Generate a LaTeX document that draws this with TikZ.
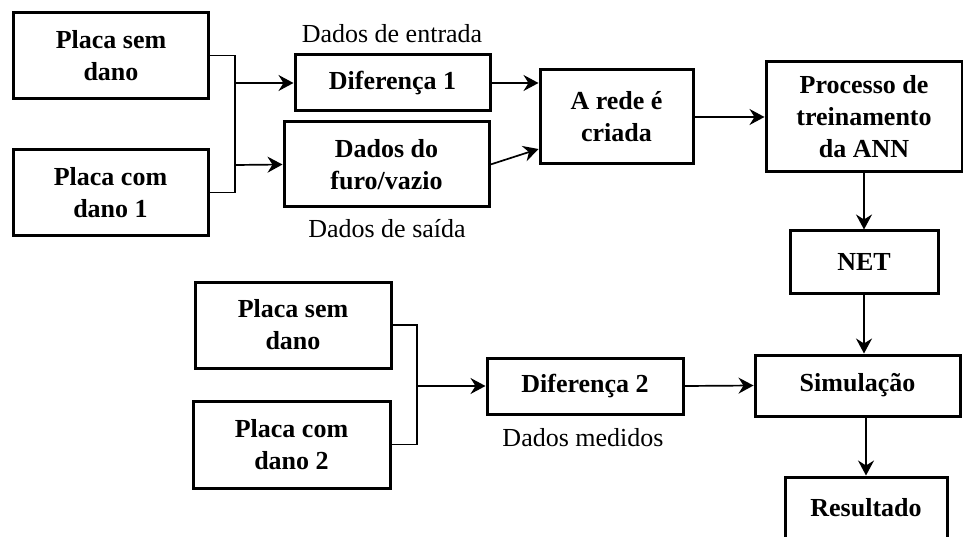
\documentclass[tikz,border=0pt]{standalone}
\usepackage{fontspec}
\setmainfont{Liberation Serif}
\usetikzlibrary{arrows.meta}

\tikzset{
  box/.style={draw, line width=3pt, inner sep=0pt, align=center,
    font=\fontsize{26}{32}\selectfont\bfseries},
  lbl/.style={inner sep=0pt, font=\fontsize{26}{32}\selectfont},
  arr/.style={line width=1.7pt, -{Stealth[length=15pt,width=16pt,inset=5pt]}},
  lin/.style={line width=1.7pt}
}

\begin{document}
\begin{tikzpicture}[x=1pt,y=-1pt]
	  \clip (0,0) rectangle (963,537);
	  \useasboundingbox (0,0) rectangle (963,537);

	  % upper branch
	  \node[box, minimum width=195, minimum height=86] (ps1) at (111,55.5) {Placa sem\\dano};
	  \node[box, minimum width=195, minimum height=86] (pc1) at (110.5,192.5) {Placa com\\dano 1};
	  \node[box, minimum width=195, minimum height=56] (dif1) at (392.5,83) {Diferença 1};
	  \node[box, minimum width=205, minimum height=85] (furo) at (386.5,164.5) {Dados do\\furo/vazio};
	  \node[box, minimum width=153, minimum height=94] (rede) at (616.5,117) {A rede é\\criada};
	  \node[box, minimum width=196, minimum height=110] (proc) at (864,117) {Processo de\\treinamento\\da ANN};
	  \node[box, minimum width=148, minimum height=62] (net) at (864,262) {NET};
	  \node[lbl] (lent) at (392,34) {Dados de entrada};
	  \node[lbl] (lsai) at (387,229) {Dados de saída};

	  % lower branch
	  \node[box, minimum width=196, minimum height=86] (ps2) at (293,325) {Placa sem\\dano};
	  \node[box, minimum width=197, minimum height=87] (pc2) at (291.5,444.5) {Placa com\\dano 2};
	  \node[box, minimum width=196, minimum height=56] (dif2) at (585,386) {Diferença 2};
	  \node[box, minimum width=205, minimum height=61] (sim) at (857.5,385.5) {Simulação};
	  \node[box, minimum width=162, minimum height=62] (res) at (866,508) {Resultado};
	  \node[lbl] (lmed) at (583,438) {Dados medidos};

	  \coordinate (j1) at (235,83);
	  \coordinate (j2) at (235,165);
	  \coordinate (j3) at (417,386);

	  \draw[lin] (ps1.east) -| (j1) -- (j2) |- (pc1.east);
	  \draw[arr] (j1) -- (dif1.west);
	  \draw[arr] (j2) -- (furo.west);
	  \draw[arr] (dif1.east) -- (dif1.east -| rede.west);
	  \draw[arr] (furo.east) -- ([yshift=-32pt]rede.west);
	  \draw[arr] (rede.east) -- (proc.west);
	  \draw[arr] (proc.south) -- (net.north);
	  \draw[arr] (net.south) -- (net.south |- sim.north);
	  \draw[arr] (res.north |- sim.south) -- (res.north);

	  \draw[lin] (ps2.east) -| (j3) |- (pc2.east);
	  \draw[arr] (j3) -- (dif2.west);
	  \draw[arr] (dif2.east) -- (sim.west);
	\end{tikzpicture}
\end{document}
